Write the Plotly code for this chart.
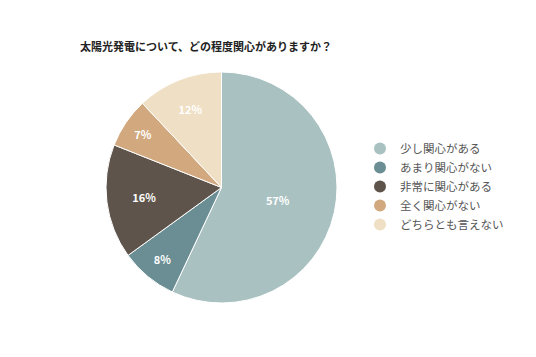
import plotly.graph_objects as go

labels = ["少し関心がある", "あまり関心がない", "非常に関心がある", "全く関心がない", "どちらとも言えない"]
values = [57, 8, 16, 7, 12]
colors = ["#a9c2c1", "#6a8e93", "#5e544b", "#d2a97f", "#efdfc4"]
title = "太陽光発電について、どの程度関心がありますか？"

W, H = 536, 357
OFF = 8  # page body margin
font = "Noto Sans CJK JP"

fig = go.Figure()
fig.add_trace(go.Pie(
    labels=labels, values=values, sort=False, direction="clockwise", rotation=0,
    marker=dict(colors=colors, line=dict(color="white", width=1)),
    texttemplate="%{percent:.0%}", textposition="inside",
    textfont=dict(color="white", size=11, family=font, weight="bold"),
    insidetextorientation="horizontal",
    domain=dict(x=[(106 - OFF) / W, (337 - OFF) / W],
                y=[1 - (303 - OFF) / H, 1 - (72 - OFF) / H]),
    showlegend=False, hoverinfo="label+percent",
))
for lab, col in zip(labels, colors):
    fig.add_trace(go.Scatter(x=[None], y=[None], mode="markers", name=lab,
                             marker=dict(symbol="circle", size=10, color=col)))

fig.update_layout(
    width=W, height=H, margin=dict(l=0, r=0, t=0, b=0),
    paper_bgcolor="white", plot_bgcolor="white",
    xaxis=dict(visible=False), yaxis=dict(visible=False),
    font=dict(family=font),
    title=dict(text=title, x=(80 - OFF) / W, xanchor="left", y=1 - (47 - OFF) / H, yanchor="middle",
               font=dict(size=11, color="#222", family=font, weight="bold")),
    legend=dict(x=352 / W, y=1 - 126 / H, xanchor="left", yanchor="top",
                font=dict(size=11.5, color="#555", family=font),
                itemsizing="constant", tracegroupgap=0, bgcolor="rgba(0,0,0,0)"),
)
fig.write_html("out.html")
